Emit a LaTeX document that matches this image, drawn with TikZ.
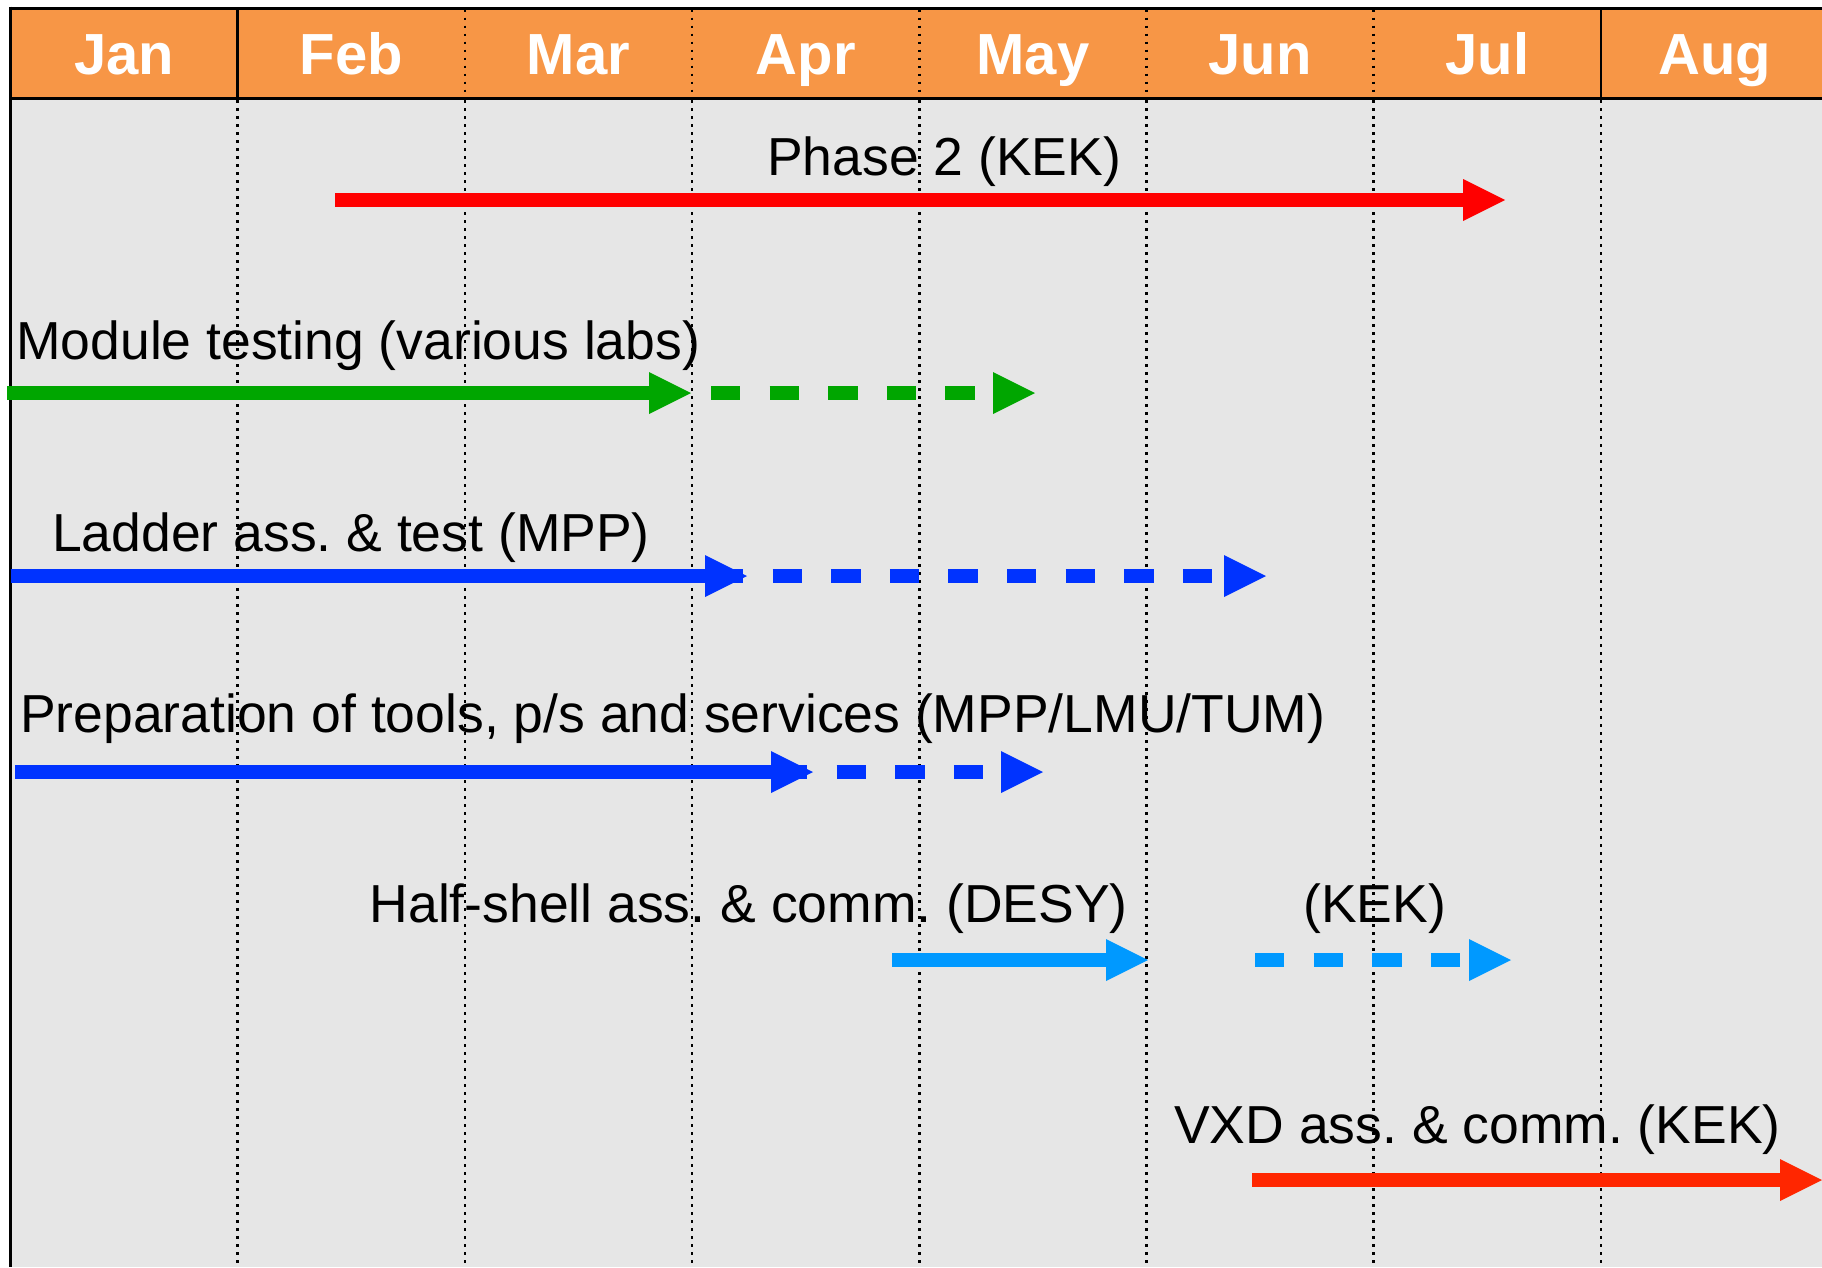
\documentclass[tikz,border=0pt]{standalone}
\usepackage{fontspec}
\setmainfont{Liberation Sans}
\usetikzlibrary{arrows.meta}
\definecolor{hdr}{RGB}{247,150,70}
\definecolor{bggray}{RGB}{230,230,230}
\definecolor{cRed}{RGB}{255,0,0}
\definecolor{cGreen}{RGB}{0,166,0}
\definecolor{cBlue}{RGB}{0,51,255}
\definecolor{cLBlue}{RGB}{0,153,255}
\definecolor{cOrRed}{RGB}{255,38,0}
\frenchspacing
\begin{document}
\begin{tikzpicture}[x=1pt,y=-1pt,
  solidbar/.style={line width=14.5pt, -{Triangle[length=42pt,width=42pt,line width=0pt]}},
  dashbar/.style={solidbar, dash pattern=on 29.3pt off 29.3pt},
  lbl/.style={font=\fontsize{53.5}{60}\selectfont, inner sep=0pt, anchor=base west},
  month/.style={font=\bfseries\fontsize{58}{64}\selectfont, text=white, inner sep=0pt, anchor=base},
  gridline/.style={line width=2.7pt, dash pattern=on 2.7pt off 5.3pt},
  hrule/.style={line width=3pt},
  vrule/.style={line width=2.6pt}]
\useasboundingbox (0,0) rectangle (1822,1267);
% background and header
\fill[bggray] (10.5,98.5) rectangle (1822,1267);
\fill[hdr] (10.5,8) rectangle (1822,98.5);
\foreach \i in {1,...,7}
  \draw[gridline] (10.5+227.2*\i,100) -- (10.5+227.2*\i,1267);
\foreach \i in {2,...,6}
  \draw[gridline] (10.5+227.2*\i,9.5) -- (10.5+227.2*\i,97);
\foreach \i in {1,7}
  \draw[vrule] (10.5+227.2*\i,8) -- (10.5+227.2*\i,98.5);
\draw[hrule] (9,8) -- (1822,8);
\draw[hrule] (9,98.5) -- (1822,98.5);
\draw[hrule] (10.5,6.5) -- (10.5,1267);
% months
\foreach \m [count=\k from 0] in {Jan,Feb,Mar,Apr,May,Jun,Jul,Aug}
  \node[month] (m\m) at (124.1+227.2*\k,74) {\m};
% Phase 2
\node[lbl] (tPhase) at (767,175) {Phase 2 (KEK)};
\coordinate (p2s) at (335,200); \coordinate (p2e) at (1505,200);
\draw[solidbar,cRed] (p2s) -- (p2e);
% Module testing
\node[lbl] (tModule) at (16,359) {Module testing (various labs)};
\coordinate (mts) at (7,393); \coordinate (mte) at (691,393);
\coordinate (mds) at (711,393); \coordinate (mde) at (1035,393);
\draw[dashbar,cGreen] (mds) -- (mde);
\draw[solidbar,cGreen] (mts) -- (mte);
% Ladder
\node[lbl] (tLadder) at (52,551) {Ladder ass. \& test (MPP)};
\coordinate (lts) at (10.5,576); \coordinate (lte) at (747,576);
\coordinate (lds) at (714,576); \coordinate (lde) at (1266,576);
\draw[dashbar,cBlue] (lds) -- (lde);
\draw[solidbar,cBlue] (lts) -- (lte);
% Preparation
\node[lbl] (tPrep) at (20,732) {Preparation of tools, p/s and services (MPP/LMU/TUM)};
\coordinate (pts) at (15,772); \coordinate (pte) at (813,772);
\coordinate (pds) at (778,772); \coordinate (pde) at (1043,772);
\draw[dashbar,cBlue] (pds) -- (pde);
\draw[solidbar,cBlue] (pts) -- (pte);
% Half-shell
\node[lbl,anchor=base east] (tHalf) at (1128,922) {Half-shell ass. \& comm. (DESY)};
\node[lbl] (tKEK) at (1303,922) {(KEK)};
\coordinate (hts) at (892,960); \coordinate (hte) at (1148,960);
\coordinate (hds) at (1255,960); \coordinate (hde) at (1511,960);
\draw[solidbar,cLBlue] (hts) -- (hte);
\draw[dashbar,cLBlue] (hds) -- (hde);
% VXD
\node[lbl] (tVXD) at (1174,1143) {VXD ass. \& comm. (KEK)};
\coordinate (vts) at (1252,1180); \coordinate (vte) at (1822,1180);
\draw[solidbar,cOrRed] (vts) -- (vte);
\end{tikzpicture}
\end{document}
